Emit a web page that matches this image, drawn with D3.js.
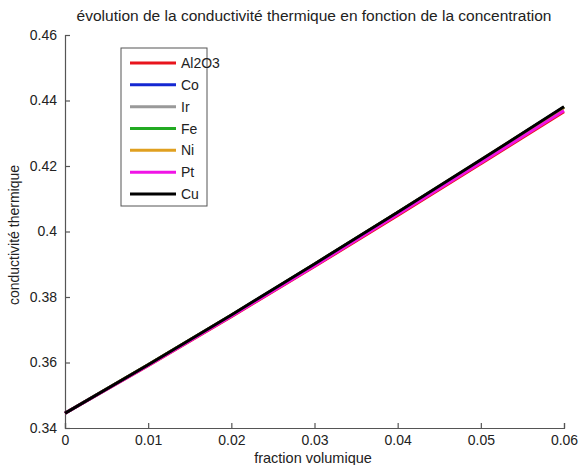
<!DOCTYPE html>
<html>
<head>
<meta charset="utf-8">
<script src="https://cdnjs.cloudflare.com/ajax/libs/d3/7.8.5/d3.min.js"></script>
<style>
  body { margin: 0; background: #fff; }
  text { font-family: "Liberation Sans", Arial, sans-serif; fill: #222; }
</style>
</head>
<body>
<svg id="chart"></svg>
<script>
// data
var phi = [0, 0.01, 0.02, 0.03, 0.04, 0.05, 0.06];
var names = ["Al2O3", "Co", "Ir", "Fe", "Ni", "Pt", "Cu"];
var colors = ["#e8141c", "#1428d2", "#999999", "#22aa22", "#e0a020", "#f014e6", "#000000"];
var kAl2O3 = [0.3445, 0.3590, 0.3740, 0.3893, 0.4049, 0.4207, 0.4366];
var kCo    = [0.3445, 0.3593, 0.3744, 0.3900, 0.4058, 0.4217, 0.4379];
var kIr    = [0.3445, 0.3593, 0.3744, 0.3900, 0.4058, 0.4218, 0.4380];
var kFe    = [0.3445, 0.3593, 0.3744, 0.3900, 0.4058, 0.4217, 0.4379];
var kNi    = [0.3445, 0.3593, 0.3744, 0.3900, 0.4058, 0.4218, 0.4379];
var kPt    = [0.3445, 0.3591, 0.3741, 0.3895, 0.4052, 0.4210, 0.4369];
var kCu    = [0.3445, 0.3593, 0.3745, 0.3901, 0.4059, 0.4219, 0.4381];
var series = [kAl2O3, kCo, kIr, kFe, kNi, kPt, kCu];
var xTicks = [0, 0.01, 0.02, 0.03, 0.04, 0.05, 0.06];
var yTicks = [0.34, 0.36, 0.38, 0.4, 0.42, 0.44, 0.46];

var width = 580, height = 465;
var mLeft = 65, mRight = 564, mTop = 35, mBottom = 428;

var svg = d3.select("#chart")
    .attr("width", width)
    .attr("height", height);

var x = d3.scaleLinear().domain([0, 0.06]).range([mLeft, mRight]);
var y = d3.scaleLinear().domain([0.34, 0.46]).range([mBottom, mTop]);

// axes, matlab style ticks pointing inward
var xAxis = d3.axisBottom(x).tickValues(xTicks).tickSize(-5).tickPadding(7)
    .tickFormat(function(d) { return d === 0 ? "0" : d3.format(".2f")(d); });
var yAxis = d3.axisLeft(y).tickValues(yTicks).tickSize(-5).tickPadding(8)
    .tickFormat(function(d) { return d3.format(".2~f")(d); });

var gx = svg.append("g").attr("transform", "translate(0," + mBottom + ")").call(xAxis);
var gy = svg.append("g").attr("transform", "translate(" + mLeft + ",0)").call(yAxis);
[gx, gy].forEach(function(g) {
  g.select(".domain").attr("stroke", "#555").attr("stroke-width", 1.2);
  g.selectAll(".tick line").attr("stroke", "#555").attr("stroke-width", 1.2);
  g.selectAll(".tick text").attr("font-size", "14px").attr("fill", "#222")
    .style("font-family", "'Liberation Sans', Arial, sans-serif");
});

// lines
var line = d3.line()
    .x(function(d, i) { return x(phi[i]); })
    .y(function(d) { return y(d); })
    .curve(d3.curveMonotoneX);

svg.selectAll("path.serie")
  .data(series)
  .enter().append("path")
    .attr("class", "serie")
    .attr("d", line)
    .attr("fill", "none")
    .attr("stroke", function(d, i) { return colors[i]; })
    .attr("stroke-width", 3);

// titles
svg.append("text")
  .attr("x", 314).attr("y", 21)
  .attr("text-anchor", "middle")
  .attr("font-size", "15.5px")
  .text("évolution de la conductivité thermique en fonction de la concentration");

svg.append("text")
  .attr("x", 313).attr("y", 463)
  .attr("text-anchor", "middle")
  .attr("font-size", "14.5px")
  .text("fraction volumique");

svg.append("text")
  .attr("transform", "translate(19,235) rotate(-90)")
  .attr("text-anchor", "middle")
  .attr("font-size", "14px")
  .text("conductivité thermique");

// legend
var legend = svg.append("g");
legend.append("rect")
  .attr("x", 121).attr("y", 48)
  .attr("width", 86).attr("height", 158)
  .attr("fill", "#fff")
  .attr("stroke", "#555").attr("stroke-width", 1);

var rowY = d3.scaleLinear().domain([0, 6]).range([63, 194]);
names.forEach(function(n, i) {
  legend.append("line")
    .attr("x1", 130).attr("x2", 176)
    .attr("y1", rowY(i)).attr("y2", rowY(i))
    .attr("stroke", colors[i]).attr("stroke-width", 3);
  legend.append("text")
    .attr("x", 181).attr("y", rowY(i) + 5)
    .attr("font-size", "14px")
    .text(n);
});
</script>
</body>
</html>
